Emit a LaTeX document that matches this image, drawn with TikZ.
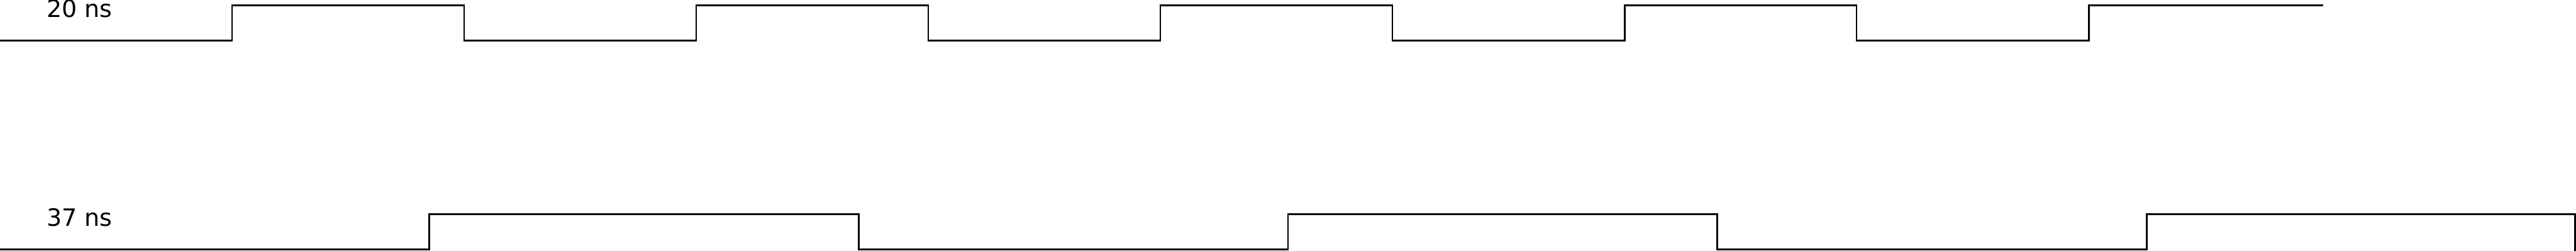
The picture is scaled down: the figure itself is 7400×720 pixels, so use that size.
\documentclass[tikz,border=0pt]{standalone}
\usepackage{fontspec}
\setmainfont{DejaVu Sans}
\begin{document}
\begin{tikzpicture}[x=0.01cm,y=-0.01cm,
  wave/.style={line width=0.05cm,black,line join=miter},
  lbl/.style={anchor=base west,inner sep=0pt,font=\fontsize{19.5pt}{22pt}\selectfont}]
\useasboundingbox (0,0) rectangle (7400,720);
% 20 ns clock
\draw[wave] (0,116)
  -- (666.7,116) -- (666.7,16) -- (1333.3,16) -- (1333.3,116)
  -- (2000,116) -- (2000,16) -- (2666.7,16) -- (2666.7,116)
  -- (3333.3,116) -- (3333.3,16) -- (4000,16) -- (4000,116)
  -- (4666.7,116) -- (4666.7,16) -- (5333.3,16) -- (5333.3,116)
  -- (6000,116) -- (6000,16) -- (6673,16);
% 37 ns clock
\draw[wave] (0,716)
  -- (1233.3,716) -- (1233.3,615.5) -- (2466.7,615.5) -- (2466.7,716)
  -- (3700,716) -- (3700,615.5) -- (4933.3,615.5) -- (4933.3,716)
  -- (6166.7,716) -- (6166.7,615.5) -- (7397.5,615.5) -- (7397.5,720);
\node[lbl] (l20) at (134,50) {20 ns};
\node[lbl] (l37) at (134,650) {37 ns};
\end{tikzpicture}
\end{document}
